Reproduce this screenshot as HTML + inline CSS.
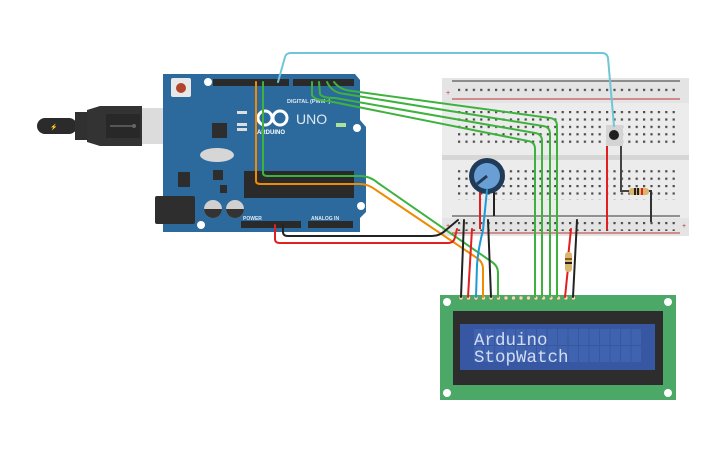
<!DOCTYPE html>
<html><head><meta charset="utf-8"><style>
html,body{margin:0;padding:0;background:#fff;}
svg{display:block;}
text{font-family:"Liberation Sans",sans-serif;}
</style></head><body>
<svg width="725" height="453" viewBox="0 0 725 453" xmlns="http://www.w3.org/2000/svg">
<defs>
<pattern id="h" x="458" y="0" width="7.4" height="7.4" patternUnits="userSpaceOnUse"><rect x="0" y="0" width="2.2" height="2.2" fill="#4a4a4a"/></pattern>
<pattern id="lcdg" x="474" y="329" width="10.5" height="17" patternUnits="userSpaceOnUse"><rect x="0" y="0" width="9.5" height="16" fill="#3f63ae"/></pattern>
</defs>

<!-- USB cable -->
<rect x="37" y="118" width="40" height="16" rx="8" fill="#2b2b2b"/>
<rect x="75" y="112" width="12" height="28" fill="#303030"/>
<path d="M87 110 L100 106 L142 106 L142 146 L100 146 L87 142 Z" fill="#333"/>
<rect x="106" y="114" width="34" height="24" fill="#282828"/>
<line x1="110" y1="126" x2="133" y2="126" stroke="#666" stroke-width="1.5"/>
<circle cx="134" cy="126" r="2" fill="#666"/>
<text x="50" y="129" font-size="6" fill="#e5d400">⚡</text>
<rect x="142" y="108" width="30" height="36" fill="#dcdcdc"/>

<!-- Arduino board -->
<path d="M163 74 L355 74 L360 80 L360 120 L366 127 L366 212 L360 218 L360 232 L163 232 Z" fill="#2c6a9d"/>
<rect x="171" y="78" width="20" height="19" rx="2" fill="#e8e8e8"/>
<circle cx="181" cy="88" r="5" fill="#b0452c"/>
<circle cx="208" cy="82" r="4" fill="#fff"/>
<circle cx="357" cy="128" r="4" fill="#fff"/>
<circle cx="361" cy="206" r="4" fill="#fff"/>
<circle cx="201" cy="225" r="4" fill="#fff"/>
<rect x="213" y="79" width="76" height="7" fill="#2a2a2a"/>
<rect x="293" y="79" width="61" height="7" fill="#2a2a2a"/>
<rect x="241" y="221" width="60" height="7" fill="#2a2a2a"/>
<rect x="308" y="221" width="45" height="7" fill="#2a2a2a"/>
<text x="287" y="103" font-size="5.5" fill="#dfe8f0" font-weight="bold">DIGITAL (PWM~)</text>
<text x="243" y="220" font-size="5" fill="#dfe8f0" font-weight="bold">POWER</text>
<text x="311" y="220" font-size="5" fill="#dfe8f0" font-weight="bold">ANALOG IN</text>
<text x="296" y="124" font-size="14" fill="#dfe8f0">UNO</text>
<text x="257" y="134" font-size="6" fill="#fff" font-weight="bold">ARDUINO</text>
<g fill="none" stroke="#fff" stroke-width="3"><circle cx="265" cy="118" r="7"/><circle cx="280" cy="118" r="7"/></g>
<rect x="336" y="123" width="10" height="4" fill="#aee29a"/>
<rect x="212" y="123" width="15" height="15" fill="#2d2d2d"/>
<rect x="237" y="123" width="10" height="3" fill="#ddd"/><rect x="237" y="128" width="10" height="3" fill="#ddd"/>
<rect x="237" y="111" width="10" height="3" fill="#ddd"/>
<ellipse cx="217" cy="155" rx="17" ry="7" fill="#d6d6d6"/>
<rect x="213" y="170" width="10" height="10" fill="#2d2d2d"/>
<rect x="178" y="172" width="12" height="15" fill="#2d2d2d"/>
<rect x="220" y="185" width="7" height="8" fill="#2d2d2d"/>
<rect x="155" y="196" width="40" height="28" rx="2" fill="#2e2e2e"/>
<circle cx="213" cy="209" r="9" fill="#d0d0d0"/><path d="M204 209 A9 9 0 0 0 222 209 Z" fill="#333"/>
<circle cx="235" cy="209" r="9" fill="#d0d0d0"/><path d="M226 209 A9 9 0 0 0 244 209 Z" fill="#333"/>
<rect x="244" y="171" width="110" height="27" fill="#2a2a2a"/>

<!-- Breadboard -->
<rect x="442" y="78" width="247" height="158" fill="#e4e4e4"/>
<rect x="442" y="103" width="247" height="115" fill="#ececec"/>
<rect x="442" y="155" width="247" height="5" fill="#d6d6d6"/>
<line x1="452" y1="81" x2="680" y2="81" stroke="#333" stroke-width="1"/>
<line x1="452" y1="99" x2="680" y2="99" stroke="#b33" stroke-width="1"/>
<line x1="452" y1="216" x2="680" y2="216" stroke="#333" stroke-width="1"/>
<line x1="452" y1="233" x2="680" y2="233" stroke="#b33" stroke-width="1"/>
<rect x="457" y="84" width="218" height="11" fill="url(#h)"/>
<rect x="457" y="219" width="218" height="12" fill="url(#h)"/>
<rect x="457" y="109" width="218" height="38" fill="url(#h)"/>
<rect x="457" y="168" width="218" height="32" fill="url(#h)"/>
<text x="446" y="228" font-size="7" fill="#b33">+</text>
<text x="446" y="95" font-size="7" fill="#b33">+</text>
<text x="682" y="228" font-size="7" fill="#b33">+</text>

<!-- potentiometer -->
<line x1="480" y1="190" x2="480" y2="229" stroke="#e02020" stroke-width="2"/>
<line x1="494" y1="190" x2="494" y2="216" stroke="#222" stroke-width="2"/>
<circle cx="487" cy="176" r="18" fill="#1f3b57"/>
<circle cx="487" cy="176" r="13" fill="#6a9fd6"/>
<line x1="487" y1="176" x2="477" y2="184" stroke="#1f3b57" stroke-width="3"/>

<!-- pushbutton & resistor -->
<line x1="607" y1="140" x2="607" y2="230" stroke="#e02020" stroke-width="2"/>
<path d="M621 140 L621 191 L630 191" fill="none" stroke="#444" stroke-width="2"/>
<path d="M648 191 L651 191 L651 222" fill="none" stroke="#333" stroke-width="2"/>
<rect x="606" y="125" width="17" height="21" fill="#d4d4d4"/>
<circle cx="614" cy="135" r="5" fill="#1e1e1e"/>
<rect x="629" y="188" width="20" height="7" rx="3" fill="#d9b56e"/>
<rect x="634" y="188" width="2" height="7" fill="#222"/><rect x="637" y="188" width="2" height="7" fill="#222"/><rect x="641" y="188" width="2" height="7" fill="#e02020"/>

<!-- LCD -->
<rect x="440" y="295" width="236" height="105" fill="#4ca866"/>
<circle cx="447" cy="302" r="4" fill="#fff"/><circle cx="668" cy="302" r="4" fill="#fff"/>
<circle cx="447" cy="393" r="4" fill="#fff"/><circle cx="668" cy="393" r="4" fill="#fff"/>
<rect x="453" y="311" width="210" height="74" fill="#2d2d2d"/>
<rect x="460" y="324" width="195" height="46" fill="#3757a3"/>
<rect x="474" y="329" width="168" height="34" fill="url(#lcdg)"/>
<text x="474" y="345" style="font-family:'Liberation Mono','DejaVu Sans Mono',monospace;font-size:17.5px" fill="#d4dcf2">Arduino</text>
<text x="474" y="362" style="font-family:'Liberation Mono','DejaVu Sans Mono',monospace;font-size:17.5px" fill="#d4dcf2">StopWatch</text>
<g fill="#e6e0b8" stroke="#8a8250" stroke-width="0.6">
<circle cx="461" cy="298" r="2"/><circle cx="468.5" cy="298" r="2"/><circle cx="476" cy="298" r="2"/><circle cx="483.5" cy="298" r="2"/><circle cx="491" cy="298" r="2"/><circle cx="498.5" cy="298" r="2"/><circle cx="506" cy="298" r="2"/><circle cx="513.5" cy="298" r="2"/><circle cx="521" cy="298" r="2"/><circle cx="528.5" cy="298" r="2"/><circle cx="536" cy="298" r="2"/><circle cx="543.5" cy="298" r="2"/><circle cx="551" cy="298" r="2"/><circle cx="558.5" cy="298" r="2"/><circle cx="566" cy="298" r="2"/><circle cx="573.5" cy="298" r="2"/>
</g>

<!-- wires -->
<g fill="none" stroke-width="2" stroke-linejoin="round" stroke-linecap="round">
<path d="M278 82 L285 57 Q286 53 291 53 L602 53 Q607 53 608 58 L614 126" stroke="#6ec6d6"/>
<path d="M334 82 Q340 90 352 91 L550 118 Q557 119 557 126 L557 297" stroke="#3db33d"/>
<path d="M327 82 Q332 93 345 94 L543 126 Q550 127 550 134 L550 297" stroke="#3db33d"/>
<path d="M319 82 L320 94 Q322 98 335 98 L535 133 Q542 134 542 141 L542 297" stroke="#3db33d"/>
<path d="M312 82 L312 95 Q314 100 328 101 L528 141 Q535 142 535 149 L535 297" stroke="#3db33d"/>
<path d="M263 82 L263 173 Q263 176 268 176 L360 176 Q370 176 378 183 L492 262 Q498 266 498 273 L498 297" stroke="#3db33d"/>
<path d="M256 82 L256 181 Q256 184 261 184 L360 184 Q368 184 376 190 L477 258 Q483 262 483 269 L483 297" stroke="#f08a00"/>
<path d="M283 225 L283 232 Q283 236 288 236 L432 236 Q440 236 446 230 L458 220" stroke="#222"/>
<path d="M275 225 L275 239 Q275 243 280 243 L448 243 Q454 243 455 237 L457 229" stroke="#e02020"/>
<path d="M464 220 L461 297" stroke="#222"/>
<path d="M472 229 L468 297" stroke="#e02020"/>
<path d="M487 190 L483 230 Q478 250 477 265 L476 297" stroke="#1b9ad6"/>
<path d="M488 220 L491 297" stroke="#222"/>
<path d="M571 229 L568 258" stroke="#e02020"/>
<path d="M568 268 L565 297" stroke="#e02020"/>
<path d="M577 220 L573 297" stroke="#222"/>
</g>
<rect x="565" y="252" width="7" height="20" rx="3" fill="#d9b56e"/>
<rect x="565" y="258" width="7" height="2" fill="#8a5a20"/><rect x="565" y="262" width="7" height="2" fill="#222"/>
</svg>
</body></html>
